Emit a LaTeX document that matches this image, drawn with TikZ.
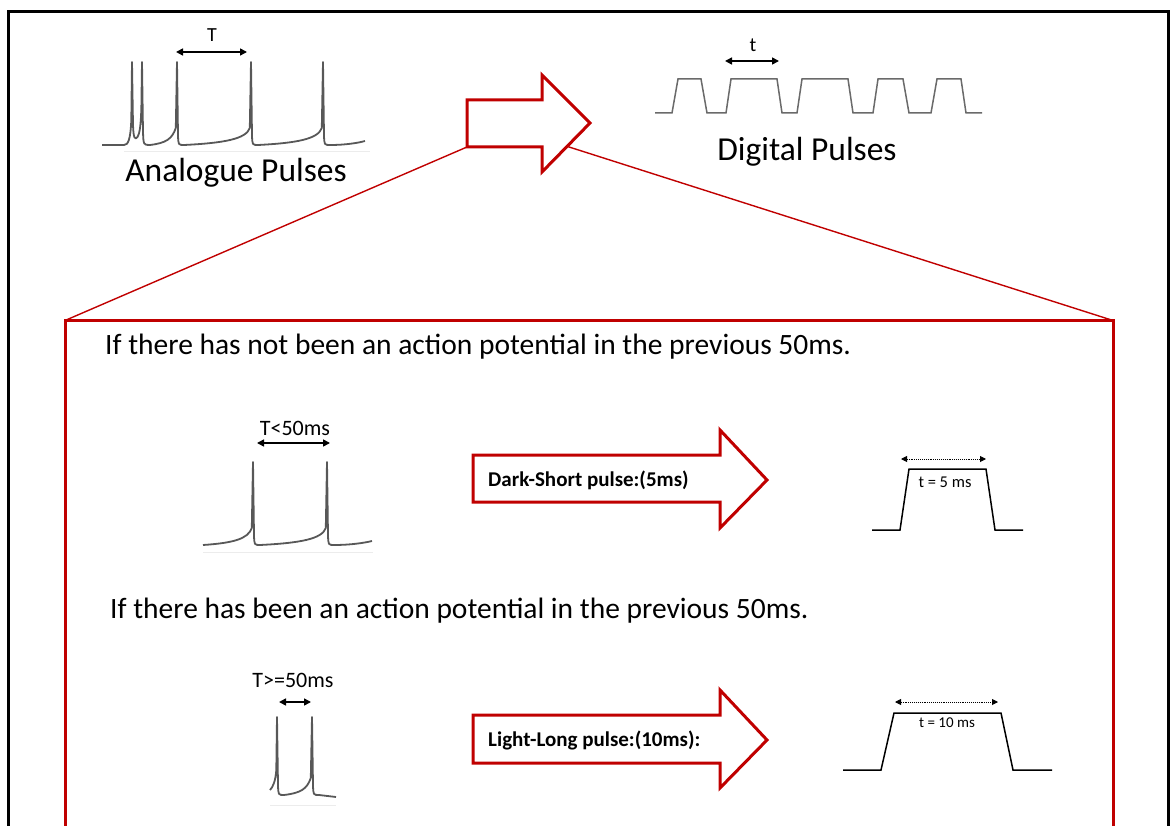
\documentclass[tikz,border=0pt]{standalone}
\usepackage{fontspec}
\setmainfont{Carlito}
\usetikzlibrary{arrows.meta}
\definecolor{zoomred}{HTML}{C00000}
\definecolor{wave}{HTML}{585858}
\definecolor{pulsegray}{HTML}{6A6A6A}

% one action-potential spike, continuing the current path from (#1,#4):
% slow rise towards spike position #2, peak at height #3, fall back to level #4
\newcommand\apspike[4]{%
  .. controls ({#1+0.6*(#2-#1)},{#4-2}) and ({#2-5},{#4-6}) .. ({#2-1.2},{#4-17})
  -- (#2,#3) -- ({#2+1},{#4-10})
  .. controls ({#2+1.3},{#4}) .. ({#2+7},{#4})}

\begin{document}
\begin{tikzpicture}[x=1pt,y=-1pt,
  frame/.style={line width=3pt},
  zoombox/.style={draw=zoomred,line width=3pt},
  zoomline/.style={draw=zoomred,line width=1.4pt},
  bigarrow/.style={draw=zoomred,fill=white,line width=3pt,line join=miter},
  spikes/.style={draw=wave,line width=1.8pt,line join=round},
  baseshade/.style={draw=gray!15,line width=1pt},
  digital/.style={draw=pulsegray,line width=1.5pt},
  single/.style={draw=black,line width=1.5pt},
  span/.style={line width=1.6pt,{Triangle[length=7pt,width=7pt]}-{Triangle[length=7pt,width=7pt]}},
  dotspan/.style={line width=0.9pt,densely dotted,{Triangle[length=6pt,width=6pt]}-{Triangle[length=6pt,width=6pt]}},
  title/.style={font=\fontsize{33.5}{40}\selectfont,inner sep=0pt},
  condition/.style={font=\fontsize{29.5}{35}\selectfont,inner sep=0pt,anchor=west},
  arrowtext/.style={font=\fontsize{21}{25}\selectfont\bfseries,inner sep=0pt,anchor=west},
  dimtext/.style={font=\fontsize{20}{24}\selectfont,inner sep=0pt},
  smalltext/.style={font=\fontsize{15}{18}\selectfont,inner sep=0pt}]
\useasboundingbox (0,0) rectangle (1173,826);

% outer frame (open at the bottom)
\draw[frame] (8.5,826) -- (8.5,11.5) -- (1168.5,11.5) -- (1168.5,826);

% ---------- top: analogue pulses ----------
\draw[baseshade] (124,152) -- (370,152);
\draw[spikes] (102,145) -- (124,145)
  .. controls (128,145) and (130.5,140) .. (131.3,120) -- (132,62)
  -- (133,125) .. controls (133.5,139) and (135,140) .. (137.5,137)
  .. controls (139.5,134) and (141,126) .. (141.4,105) -- (142,62)
  -- (143,132) .. controls (143.5,145) .. (150,145)
  \apspike{150}{177}{62}{145}
  \apspike{184}{251}{62}{145}
  \apspike{258}{323}{62}{145}
  .. controls (345,145) and (358,143) .. (365,141);
\node[dimtext] (Tlab) at (212,35) {T};
\coordinate (Ta) at (176,52);
\coordinate (Tb) at (247,52);
\draw[span] (Ta) -- (Tb);
\node[title] (analogue) at (236,173) {Analogue Pulses};

% ---------- top: digital pulses ----------
\draw[digital] (655,113) -- (672,113) -- (678,79) -- (701,79) -- (707,113)
  -- (726,113) -- (731,79) -- (777,79) -- (782,113)
  -- (797,113) -- (802,79) -- (848,79) -- (853,113)
  -- (873,113) -- (878,79) -- (903,79) -- (909,113)
  -- (931,113) -- (937,79) -- (961,79) -- (966,113) -- (982,113);
\node[dimtext] (tlab) at (753,45) {t};
\coordinate (ta) at (725,61);
\coordinate (tb) at (779,61);
\draw[span] (ta) -- (tb);
\node[title] (digitalname) at (807,152) {Digital Pulses};

% ---------- conversion arrow and zoomed box ----------
\draw[bigarrow] (467,100) -- (542,100) -- (542,75) -- (590,123)
  -- (542,172) -- (542,147) -- (467,147) -- cycle;
\coordinate (convBL) at (467,147);
\coordinate (convHead) at (567.5,146.5);
\coordinate (boxTL) at (65,320.5);
\coordinate (boxTR) at (1113,320.5);
\draw[zoomline] (boxTL) -- (convBL);
\draw[zoomline] (boxTR) -- (convHead);
\draw[zoombox] (65,826) -- (boxTL) -- (boxTR) -- (1113,826);

% ---------- case 1 ----------
\node[condition] (cond1) at (105,347) {If there has not been an action potential in the previous 50ms.};

\draw[baseshade] (203,552) -- (373,552);
\draw[spikes] (203,545)
  \apspike{203}{253}{462}{545}
  \apspike{260}{327}{462}{545}
  .. controls (350,545) and (364,543) .. (372,541);
\node[dimtext,font=\fontsize{22}{26}\selectfont] (T1lab) at (295,428) {T<50ms};
\coordinate (T1a) at (257,443);
\coordinate (T1b) at (330,443);
\draw[span] (T1a) -- (T1b);

\draw[bigarrow] (473,455) -- (720,455) -- (720,430) -- (767,480)
  -- (720,528) -- (720,502) -- (473,502) -- cycle;
\node[arrowtext] (darkshort) at (488,480) {Dark-Short pulse:(5ms)};

\draw[single] (872,530) -- (900,530) -- (909,469) -- (986,469) -- (995,530) -- (1023,530);
\coordinate (d1a) at (901,459);
\coordinate (d1b) at (986,459);
\draw[dotspan] (d1a) -- (d1b);
\node[smalltext,font=\fontsize{16.5}{20}\selectfont] (t5) at (945,482) {t = 5 ms};

% ---------- case 2 ----------
\node[condition] (cond2) at (110,611) {If there has been an action potential in the previous 50ms.};

\draw[baseshade] (270,805) -- (336,805);
\draw[spikes] (270,790) .. controls (273,787) and (275.5,781) .. (276.3,770)
  -- (277,717) -- (278,785) .. controls (278.3,795) .. (284,795)
  \apspike{284}{312}{717}{795}
  -- (336,797);
\node[dimtext,font=\fontsize{22}{26}\selectfont] (T2lab) at (293,680) {T>=50ms};
\coordinate (T2a) at (279,702);
\coordinate (T2b) at (311,702);
\draw[span] (T2a) -- (T2b);

\draw[bigarrow] (473,715) -- (720,715) -- (720,690) -- (767,740)
  -- (720,788) -- (720,763) -- (473,763) -- cycle;
\node[arrowtext] (lightlong) at (488,740) {Light-Long pulse:(10ms):};

\draw[single] (843,770) -- (881,770) -- (894,713) -- (1001,713) -- (1013,770) -- (1052,770);
\coordinate (d2a) at (895,702);
\coordinate (d2b) at (998,702);
\draw[dotspan] (d2a) -- (d2b);
\node[smalltext] (t10) at (947,723) {t = 10 ms};
\end{tikzpicture}
\end{document}
